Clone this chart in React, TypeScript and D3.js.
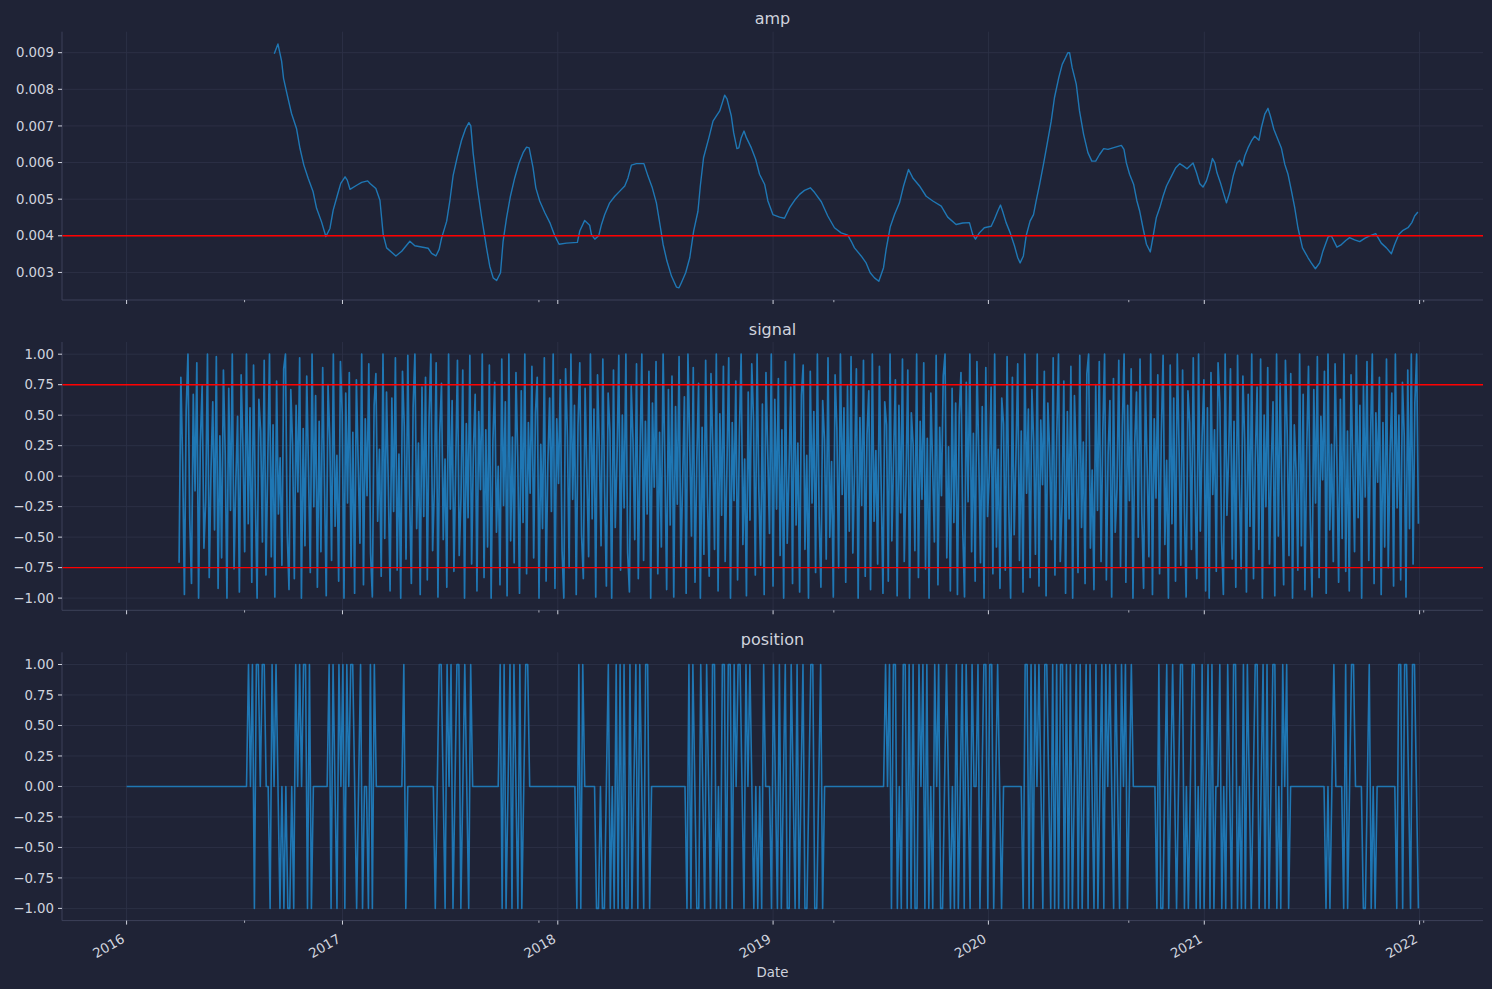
import React from "react";
import * as d3 from "d3";

// ---------------- DATA ----------------
const xStart = "2016-01-01";
const xEnd = "2021-12-30";
const yearTicks = [2016, 2017, 2018, 2019, 2020, 2021, 2022];
const minorTickDates = ["2016-07-19", "2017-11-30", "2019-04-14", "2020-08-26", "2022-01-08"];

// amp: time as decimal years
const ampTime = [
  2016.684, 2016.701, 2016.718, 2016.727, 2016.744, 2016.764, 2016.787, 2016.803, 2016.821, 2016.841,
  2016.864, 2016.880, 2016.903, 2016.923, 2016.942, 2016.957, 2016.976, 2016.992, 2017.012, 2017.022,
  2017.035, 2017.066, 2017.089, 2017.117, 2017.128, 2017.155, 2017.174, 2017.189, 2017.205, 2017.248,
  2017.275, 2017.313, 2017.336, 2017.398, 2017.414, 2017.434, 2017.449, 2017.460, 2017.484, 2017.499,
  2017.514, 2017.533, 2017.553, 2017.572, 2017.587, 2017.596, 2017.607, 2017.626, 2017.646, 2017.669,
  2017.684, 2017.700, 2017.716, 2017.734, 2017.746, 2017.762, 2017.780, 2017.800, 2017.820, 2017.839,
  2017.855, 2017.867, 2017.885, 2017.898, 2017.916, 2017.940, 2017.963, 2017.986, 2018.006, 2018.040,
  2018.091, 2018.102, 2018.125, 2018.148, 2018.156, 2018.172, 2018.190, 2018.203, 2018.218, 2018.241,
  2018.265, 2018.288, 2018.311, 2018.326, 2018.342, 2018.365, 2018.400, 2018.419, 2018.439, 2018.458,
  2018.477, 2018.489, 2018.507, 2018.528, 2018.551, 2018.563, 2018.574, 2018.594, 2018.613, 2018.631,
  2018.651, 2018.662, 2018.677, 2018.702, 2018.721, 2018.736, 2018.752, 2018.764, 2018.775, 2018.786,
  2018.806, 2018.817, 2018.832, 2018.841, 2018.852, 2018.865, 2018.876, 2018.899, 2018.919, 2018.937,
  2018.961, 2018.976, 2018.999, 2019.030, 2019.053, 2019.077, 2019.100, 2019.123, 2019.146, 2019.173,
  2019.193, 2019.224, 2019.254, 2019.285, 2019.316, 2019.347, 2019.363, 2019.378, 2019.409, 2019.432,
  2019.451, 2019.471, 2019.491, 2019.513, 2019.525, 2019.544, 2019.564, 2019.587, 2019.606, 2019.629,
  2019.649, 2019.680, 2019.711, 2019.742, 2019.781, 2019.811, 2019.850, 2019.881, 2019.912, 2019.927,
  2019.940, 2019.958, 2019.981, 2020.013, 2020.028, 2020.043, 2020.056, 2020.066, 2020.082, 2020.101,
  2020.121, 2020.136, 2020.147, 2020.162, 2020.175, 2020.193, 2020.209, 2020.221, 2020.237, 2020.255,
  2020.272, 2020.291, 2020.306, 2020.326, 2020.342, 2020.357, 2020.368, 2020.376, 2020.388, 2020.407,
  2020.422, 2020.441, 2020.461, 2020.479, 2020.497, 2020.515, 2020.534, 2020.554, 2020.577, 2020.616,
  2020.628, 2020.639, 2020.654, 2020.673, 2020.688, 2020.701, 2020.716, 2020.732, 2020.750, 2020.762,
  2020.778, 2020.794, 2020.809, 2020.825, 2020.848, 2020.868, 2020.886, 2020.902, 2020.920, 2020.948,
  2020.964, 2020.979, 2020.994, 2021.010, 2021.026, 2021.038, 2021.049, 2021.059, 2021.075, 2021.091,
  2021.103, 2021.118, 2021.134, 2021.152, 2021.165, 2021.177, 2021.188, 2021.203, 2021.219, 2021.234,
  2021.254, 2021.265, 2021.281, 2021.296, 2021.307, 2021.323, 2021.342, 2021.358, 2021.374, 2021.389,
  2021.405, 2021.420, 2021.435, 2021.456, 2021.482, 2021.497, 2021.516, 2021.536, 2021.551, 2021.575,
  2021.590, 2021.616, 2021.637, 2021.657, 2021.675, 2021.698, 2021.722, 2021.745, 2021.768, 2021.796,
  2021.822, 2021.846, 2021.869, 2021.884, 2021.904, 2021.923, 2021.946, 2021.964, 2021.977, 2021.992,
];
const ampValue = [
  0.00897, 0.00924, 0.00877, 0.0083, 0.00785, 0.00734, 0.00693, 0.00639, 0.00593, 0.00557,
  0.0052, 0.00475, 0.00438, 0.00398, 0.0042, 0.0047, 0.0051, 0.00543, 0.00561, 0.00552,
  0.00527, 0.00538, 0.00546, 0.0055, 0.00543, 0.00529, 0.00497, 0.00404, 0.00367, 0.00345,
  0.00358, 0.00385, 0.00373, 0.00366, 0.00352, 0.00345, 0.00363, 0.00393, 0.0044, 0.00497,
  0.00565, 0.00615, 0.00661, 0.00693, 0.00709, 0.007, 0.00625, 0.00534, 0.00452, 0.00367,
  0.00317, 0.00285, 0.00278, 0.00299, 0.00385, 0.00449, 0.00508, 0.00558, 0.00599, 0.00627,
  0.00642, 0.0064, 0.00586, 0.00531, 0.00495, 0.00463, 0.00436, 0.004, 0.00377, 0.0038,
  0.00382, 0.00413, 0.00442, 0.00429, 0.00404, 0.00391, 0.004, 0.00431, 0.00458, 0.0049,
  0.00508, 0.00522, 0.00536, 0.00558, 0.00593, 0.00597, 0.00597, 0.00563, 0.00531, 0.0049,
  0.00422, 0.00377, 0.00331, 0.0029, 0.0026, 0.00258, 0.00272, 0.00299, 0.0034, 0.00413,
  0.00467, 0.00536, 0.00613, 0.00668, 0.00713, 0.00727, 0.00741, 0.00763, 0.00784, 0.00774,
  0.00727, 0.00681, 0.00638, 0.0064, 0.00668, 0.00686, 0.00668, 0.0064, 0.00609, 0.00568,
  0.0054, 0.00495, 0.00458, 0.00451, 0.00448, 0.00477, 0.00497, 0.00513, 0.00524, 0.00531,
  0.00518, 0.00493, 0.00454, 0.00422, 0.00408, 0.00402, 0.00385, 0.00367, 0.00345, 0.00326,
  0.00299, 0.00285, 0.00276, 0.00313, 0.00363, 0.00424, 0.00458, 0.0049, 0.00536, 0.00581,
  0.00558, 0.00536, 0.00508, 0.00495, 0.00481, 0.00451, 0.00431, 0.00435, 0.00436, 0.00404,
  0.00391, 0.00408, 0.00422, 0.00426, 0.00445, 0.00467, 0.00484, 0.00467, 0.00436, 0.00408,
  0.00372, 0.0034, 0.00326, 0.00345, 0.004, 0.0044, 0.00458, 0.00495, 0.0054, 0.00595,
  0.0065, 0.00713, 0.00777, 0.00832, 0.00868, 0.00886, 0.009, 0.009, 0.00859, 0.00814,
  0.00741, 0.00677, 0.00627, 0.00604, 0.00604, 0.00622, 0.00638, 0.00636, 0.0064, 0.00647,
  0.00636, 0.00599, 0.00568, 0.0054, 0.00495, 0.00467, 0.00422, 0.00377, 0.00356, 0.00395,
  0.0045, 0.00477, 0.00508, 0.00536, 0.00563, 0.00586, 0.00597, 0.00591, 0.00583, 0.00599,
  0.00572, 0.00542, 0.00533, 0.0055, 0.00581, 0.00611, 0.00599, 0.00572, 0.00545, 0.00513,
  0.0049, 0.00518, 0.00563, 0.00599, 0.00606, 0.00591, 0.00618, 0.0064, 0.00659, 0.00672,
  0.00661, 0.00695, 0.00732, 0.00748, 0.00727, 0.00691, 0.00663, 0.0064, 0.00595, 0.00568,
  0.00522, 0.00477, 0.00422, 0.00367, 0.0034, 0.00326, 0.0031, 0.00326, 0.00358, 0.00397,
  0.004, 0.00369, 0.00376, 0.00387, 0.00395, 0.00389, 0.00384, 0.00393, 0.004, 0.00406,
  0.0038, 0.00367, 0.00351, 0.00376, 0.00404, 0.00415, 0.00422, 0.00436, 0.00454, 0.00465,
];
const ampThreshold = [0.004];
const ampTicks = [0.003, 0.004, 0.005, 0.006, 0.007, 0.008, 0.009];

const signalStart = "2016-03-30";
const signalEnd = "2021-12-30";
const signalValue = [
  -0.71, 0.81, 0.12, -0.97, 0.54, 1.0, -0.35, -0.88, 0.67, -0.12, 0.93, -1.0, 0.28, 0.74, -0.59, -0.21, 1.0, -0.83, 0.05, 0.61,
  -0.44, 0.98, -0.92, 0.33, -0.67, 0.87, 0.19, -1.0, 0.72, -0.28, 1.0, -0.76, -0.05, 0.49, -0.95, 0.83, 0.24, -0.62, 1.0, -0.39,
  0.56, -0.87, 0.91, -0.18, -1.0, 0.63, 0.37, -0.54, 0.95, -0.81, 0.09, 1.0, -0.66, 0.42, -0.99, 0.78, -0.31, 0.15, -0.73, 0.88,
  1.0, -0.47, -0.93, 0.71, 0.26, -0.84, 0.58, -0.13, 0.97, -1.0, 0.39, -0.57, 0.82, 0.03, -0.79, 1.0, -0.25, 0.66, -0.91, 0.45,
  -0.62, 0.89, -0.08, -0.98, 0.75, 0.31, -0.69, 1.0, -0.41, 0.17, -0.86, 0.94, 0.52, -1.0, 0.68, -0.22, 0.85, -0.74, 0.36, -0.96,
  0.79, 0.11, -0.55, 1.0, -0.89, 0.47, -0.16, 0.92, -0.63, -0.99, 0.58, 0.84, -0.37, 0.22, -0.82, 1.0, -0.51, 0.69, -0.07, -0.94,
  0.64, -0.29, 0.97, -0.77, 0.18, -1.0, 0.86, 0.41, -0.68, 0.99, -0.15, -0.88, 0.57, 1.0, -0.43, 0.27, -0.97, 0.73, -0.33, 0.81,
  -0.85, 0.48, 1.0, -0.61, -0.09, 0.93, -0.99, 0.35, 0.76, -0.52, 0.14, -0.91, 1.0, -0.27, 0.62, -0.78, 0.06, 0.95, -0.65, -0.18,
  0.87, -1.0, 0.43, -0.34, 0.99, -0.72, 0.21, 0.67, -0.94, 0.53, -0.11, 1.0, -0.83, 0.38, -0.58, 0.91, -1.0, 0.29, 0.77, -0.46,
  0.08, -0.89, 0.96, -0.24, 0.61, -0.98, 1.0, -0.53, 0.32, -0.71, 0.85, 0.16, -0.96, 0.7, -0.38, 1.0, -0.8, 0.44, -0.14, 0.9,
  -0.67, 0.52, 0.81, -1.0, 0.26, -0.43, 0.97, -0.86, 0.11, 0.64, -0.29, 1.0, -0.92, 0.47, -0.06, 0.79, -0.61, -1.0, 0.88, 0.34,
  -0.75, 1.0, -0.19, 0.58, -0.97, 0.41, 0.93, -0.48, -0.84, 0.72, 0.02, -0.66, 1.0, -0.35, 0.55, -0.99, 0.83, 0.23, -0.57, 0.96,
  -0.13, -0.9, 0.68, 0.37, -1.0, 0.87, -0.42, 0.15, 0.99, -0.77, 0.5, -0.26, 1.0, -0.63, -0.95, 0.74, 0.3, -0.52, 0.92, -0.84,
  0.19, 1.0, -0.69, 0.45, -0.31, 0.86, -1.0, 0.6, -0.09, 0.94, -0.8, 0.36, -0.58, 1.0, 0.1, -0.93, 0.71, -0.4, 0.82, -0.99,
  0.57, -0.23, 0.98, -0.74, -0.05, 0.65, -0.96, 1.0, 0.28, -0.49, 0.89, -0.87, 0.13, 0.76, -1.0, 0.4, -0.64, 0.95, -0.17, -0.82,
  0.84, 0.25, -0.6, 1.0, -0.94, 0.51, -0.32, 0.9, -0.7, 0.07, 0.97, -1.0, 0.44, -0.2, 0.78, -0.85, 0.33, 1.0, -0.56, 0.14,
  -0.98, 0.69, -0.36, 0.92, 0.46, -0.81, 1.0, -0.12, -0.73, 0.59, -0.97, 0.85, 0.2, -0.47, 1.0, -0.9, 0.63, -0.27, 0.8, -0.65,
  0.38, -1.0, 0.94, -0.55, 0.04, 0.73, -0.88, 1.0, -0.4, 0.27, -0.95, 0.66, 0.91, -0.6, 0.17, -1.0, 0.86, -0.22, 0.53, -0.79,
  1.0, -0.34, -0.91, 0.62, 0.3, -0.68, 0.97, -0.5, 0.12, -0.99, 0.83, 0.39, -0.75, 1.0, -0.15, 0.56, -0.87, 0.74, -0.45, 0.98,
  -0.63, 0.07, 0.88, -1.0, 0.48, -0.24, 0.95, -0.82, 0.34, 0.7, -0.93, 1.0, -0.37, 0.21, -0.72, 0.9, -0.1, -0.96, 0.61, 0.42,
  -0.86, 1.0, -0.53, 0.16, 0.79, -0.98, 0.58, -0.3, 0.96, -0.7, -0.04, 0.87, -1.0, 0.52, 0.26, -0.61, 1.0, -0.83, 0.45, -0.19,
  0.93, -0.76, 0.31, -1.0, 0.68, 0.09, -0.54, 0.99, -0.89, 0.4, -0.16, 0.82, 1.0, -0.67, 0.24, -0.94, 0.72, -0.38, 0.6, -0.97,
  0.5, 0.85, -0.44, -0.99, 0.77, -0.21, 1.0, -0.62, 0.35, -0.86, 0.94, 0.18, -0.71, 0.57, -1.0, 0.89, -0.33, 0.03, 0.73, -0.8,
  1.0, -0.58, 0.22, -0.92, 0.64, 0.43, -0.77, 0.98, -0.26, -1.0, 0.81, -0.48, 0.15, 0.92, -0.69, 0.37, -0.95, 1.0, -0.14, 0.55,
  -0.83, 0.71, 0.29, -0.64, 1.0, -0.9, 0.46, -0.07, 0.86, -0.98, 0.6, 0.2, -0.52, 0.97, -0.81, 0.32, 1.0, -0.7, -0.23, 0.78,
  -0.96, 0.53, -0.35, 0.9, -1.0, 0.66, 0.13, -0.79, 0.99, -0.42, 0.28, -0.88, 0.84, 1.0, -0.59, 0.05, -0.93, 0.75, -0.28, 0.94,
  -0.7, 0.36, 1.0, -0.85, 0.19, 0.62, -0.99, 0.8, -0.46, -0.1, 0.95, -0.74, 0.41, 1.0, -0.87, 0.58, -0.2, 0.88, -1.0, 0.27,
  0.69, -0.5, 0.96, -0.31, -0.92, 0.74, 0.08, -0.66, 1.0, -0.97, 0.47, -0.18, 0.83, -0.8, 0.35, 0.99, -0.56, 0.13, -1.0, 0.91,
  -0.39, 0.64, -0.86, 1.0, 0.23, -0.73, 0.87, -0.27, -0.99, 0.7, 0.44, -0.6, 0.97, -0.11, -0.84, 1.0, -0.45, 0.32, 0.79, -0.94,
  0.56, -1.0, 0.85, -0.15, 0.38, -0.78, 0.93, 0.6, -0.53, -0.97, 1.0, -0.32, 0.19, 0.88, -0.68, 0.45, -0.91, 0.99, -0.07, -0.76,
  0.82, 0.3, -0.95, 0.67, -0.41, 1.0, -0.84, 0.14, 0.73, -0.6, 0.96, -1.0, 0.5, -0.25, 0.89, -0.72, 0.08, 0.61, -0.98, 1.0,
  -0.49, 0.76, -0.13, -0.89, 0.95, 0.35, -0.65, 0.84, -1.0, 0.42, 0.04, -0.77, 1.0, -0.57, 0.67, -0.93, 0.21, 0.9, -0.36, -0.99,
  0.71, -0.22, 0.98, -0.83, 0.49, -0.03, 0.86, -0.96, 1.0, -0.44, 0.26, -0.7, 0.92, 0.15, -0.87, 0.63, -0.51, 1.0, -0.78, 0.37,
  -0.94, 0.83, 0.1, -0.62, 0.99, -0.34, 0.58, -1.0, 0.75, -0.17, 0.94, -0.69, 0.31, 1.0, -0.88, 0.52, -0.05, 0.81, -0.97, 0.44,
  -0.58, 0.96, -0.75, 0.18, 0.68, -0.9, 1.0, -0.26, 0.5, -0.85, 0.77, 0.33, -0.99, 0.87, -0.43, 1.0, -0.72, 0.6, 1.0, -0.39,
];
const signalThresholds = [0.75, -0.75];

const positionStart = "2016-01-01";
const positionEnd = "2021-12-30";
const positionValue = [
  0,0,0,0,0,0,0,0,0,0,0,0,0,0,0,0,0,0,0,0,
  0,0,0,0,0,0,0,0,0,0,0,0,0,0,0,0,0,0,0,0,
  0,0,0,0,0,0,0,0,0,0,0,0,0,0,0,0,0,0,0,0,
  0,0,1,0,1,-1,1,1,0,1,1,0,0,-1,1,0,1,0,-1,0,
  -1,0,-1,-1,0,-1,1,0,1,0,1,1,-1,1,-1,0,0,0,0,0,
  0,0,0,1,-1,1,0,-1,1,0,1,-1,1,0,1,1,0,-1,0,1,
  -1,0,0,-1,1,-1,1,0,0,0,0,0,0,0,0,0,0,0,0,0,
  0,1,-1,0,0,0,0,0,0,0,0,0,0,0,0,0,0,-1,0,1,
  1,0,-1,1,0,1,-1,0,1,1,-1,0,1,0,-1,1,0,0,0,0,
  0,0,0,0,0,0,0,0,0,0,1,-1,1,-1,0,1,-1,1,0,-1,
  1,-1,0,1,1,0,0,0,0,0,0,0,0,0,0,0,0,0,0,0,
  0,0,0,0,0,0,0,0,0,-1,1,-1,1,0,0,0,0,0,0,-1,
  -1,0,-1,-1,0,1,-1,0,-1,1,-1,1,-1,1,-1,-1,1,-1,0,1,
  -1,1,0,-1,1,1,-1,0,0,0,0,0,0,0,0,0,0,0,0,0,
  0,0,0,0,0,-1,1,-1,1,0,-1,-1,1,0,-1,1,0,-1,1,1,
  -1,0,-1,1,1,-1,1,1,-1,1,0,1,1,0,-1,1,0,1,0,-1,
  0,-1,0,-1,1,0,0,0,-1,1,0,-1,1,-1,0,1,-1,-1,1,0,
  -1,1,-1,0,1,-1,-1,0,1,1,-1,-1,0,1,-1,0,0,0,0,0,
  0,0,0,0,0,0,0,0,0,0,0,0,0,0,0,0,0,0,0,0,
  0,0,0,0,0,0,1,0,1,-1,1,1,-1,0,-1,1,1,-1,1,-1,
  1,-1,-1,1,0,1,-1,1,-1,0,-1,1,0,1,-1,-1,0,1,0,-1,
  0,-1,1,-1,0,1,-1,1,0,-1,1,0,0,1,-1,0,1,1,-1,1,
  1,-1,0,1,0,-1,0,0,0,0,0,0,0,0,0,0,-1,1,1,-1,
  1,-1,1,0,1,0,-1,1,1,0,-1,1,-1,1,-1,1,1,-1,1,-1,
  1,-1,0,1,-1,1,-1,0,1,-1,1,0,-1,1,-1,0,1,-1,1,0,
  1,0,-1,1,0,-1,1,0,1,-1,0,1,0,0,0,0,0,0,0,0,
  0,0,0,0,-1,1,-1,-1,0,1,-1,0,1,0,-1,0,1,1,-1,0,
  -1,0,1,1,-1,0,-1,1,-1,0,1,-1,1,-1,0,0,1,-1,0,-1,
  1,0,-1,1,1,-1,0,-1,1,-1,1,0,-1,0,1,1,-1,0,1,-1,
  1,-1,0,1,1,-1,0,-1,1,0,1,-1,0,0,0,0,0,0,0,0,
  0,0,0,0,0,0,0,0,0,0,-1,0,-1,0,1,0,0,0,0,-1,
  1,-1,0,1,1,0,0,0,0,-1,-1,0,1,-1,0,-1,0,0,0,0,
  0,0,0,0,0,0,-1,1,1,-1,1,1,0,-1,1,1,0,-1,
];
const unitTicks = [-1, -0.75, -0.5, -0.25, 0, 0.25, 0.5, 0.75, 1];

// ---------------- STYLE ----------------
const W = 1492;
const H = 989;
const BG = "#1f2336";
const GRID = "#2c3146";
const SPINE = "#3c4159";
const TEXT = "#d0d3de";
const LINE = "#1f77b4";
const RED = "#ff0000";
const FONT = "DejaVu Sans, Verdana, sans-serif";
const PL = 62;
const PR = 1483;
const PH = 268.3;
const TOPS = [31.7, 342, 652.3];

const utc = (s: string) => {
  const [y, m, d] = s.split("-").map(Number);
  return new Date(Date.UTC(y, m - 1, d));
};
const decYear = (t: number) => {
  const y = Math.floor(t);
  const a = Date.UTC(y, 0, 1);
  const b = Date.UTC(y + 1, 0, 1);
  return new Date(a + (t - y) * (b - a));
};
const spread = (s: string, e: string, n: number, i: number) => {
  const a = utc(s).getTime();
  const b = utc(e).getTime();
  return new Date(a + ((b - a) * i) / (n - 1));
};
const padded = (lo: number, hi: number): [number, number] => {
  const p = (hi - lo) * 0.05;
  return [lo - p, hi + p];
};

type Pt = [Date, number];

const ampPts: Pt[] = ampTime.map((t, i) => [decYear(t), ampValue[i]]);
const sigPts: Pt[] = signalValue.map((v, i) => [spread(signalStart, signalEnd, signalValue.length, i), v]);
const posPts: Pt[] = positionValue.map((v, i) => [spread(positionStart, positionEnd, positionValue.length, i), v]);

const x0 = utc(xStart).getTime();
const x1 = utc(xEnd).getTime();
const xPad = (x1 - x0) * 0.05;
const x = d3.scaleUtc().domain([new Date(x0 - xPad), new Date(x1 + xPad)]).range([PL, PR]);

interface PanelProps {
  top: number;
  title: string;
  pts: Pt[];
  domain: [number, number];
  ticks: number[];
  fmt: (v: number) => string;
  hlines: number[];
  width: number;
  showX: boolean;
}

function Panel({ top, title, pts, domain, ticks, fmt, hlines, width, showX }: PanelProps) {
  const bottom = top + PH;
  const y = d3.scaleLinear().domain(domain).range([bottom, top]);
  const line = d3
    .line<Pt>()
    .x((d) => x(d[0]))
    .y((d) => y(d[1]));
  const majors = yearTicks.map((yr) => new Date(Date.UTC(yr, 0, 1)));
  const minors = minorTickDates.map(utc);
  return (
    <g>
      {ticks.map((t) => (
        <line key={"gy" + t} x1={PL} x2={PR} y1={y(t)} y2={y(t)} stroke={GRID} strokeWidth={0.9} />
      ))}
      {majors.map((d) => (
        <line key={"gx" + d.getTime()} x1={x(d)} x2={x(d)} y1={top} y2={bottom} stroke={GRID} strokeWidth={0.9} />
      ))}
      <path d={line(pts) || ""} fill="none" stroke={LINE} strokeWidth={width} strokeLinejoin="round" />
      {hlines.map((h) => (
        <line key={"h" + h} x1={PL} x2={PR} y1={y(h)} y2={y(h)} stroke={RED} strokeWidth={1.4} />
      ))}
      <line x1={PL} x2={PL} y1={top} y2={bottom} stroke={SPINE} strokeWidth={1} />
      <line x1={PL} x2={PR} y1={bottom} y2={bottom} stroke={SPINE} strokeWidth={1} />
      {ticks.map((t) => (
        <g key={"ty" + t}>
          <line x1={PL - 4} x2={PL} y1={y(t)} y2={y(t)} stroke={TEXT} strokeWidth={1} />
          <text x={PL - 8} y={y(t)} dy="0.35em" textAnchor="end" fill={TEXT} fontSize={13.3} fontFamily={FONT}>
            {fmt(t)}
          </text>
        </g>
      ))}
      {majors.map((d) => (
        <line key={"tx" + d.getTime()} x1={x(d)} x2={x(d)} y1={bottom} y2={bottom + 4} stroke={TEXT} strokeWidth={1} />
      ))}
      {minors.map((d) => (
        <line key={"mx" + d.getTime()} x1={x(d)} x2={x(d)} y1={bottom} y2={bottom + 2.2} stroke={TEXT} strokeWidth={0.8} />
      ))}
      {showX &&
        majors.map((d, i) => (
          <text
            key={"lx" + i}
            transform={`translate(${x(d) - 1},${bottom + 21}) rotate(-30)`}
            textAnchor="end"
            fill={TEXT}
            fontSize={13.3}
            fontFamily={FONT}
          >
            {String(yearTicks[i])}
          </text>
        ))}
      <text x={(PL + PR) / 2} y={top - 7.4} textAnchor="middle" fill={TEXT} fontSize={16} fontFamily={FONT}>
        {title}
      </text>
    </g>
  );
}

export default function App() {
  const ampExt = d3.extent(ampValue) as [number, number];
  const f3 = d3.format(".3f");
  const f2 = d3.format(".2f");
  return (
    <svg
      width={W}
      height={H}
      viewBox={`0 0 ${W} ${H}`}
      style={{ position: "absolute", left: 0, top: 0, display: "block" }}
    >
      <rect x={0} y={0} width={W} height={H} fill={BG} />
      <Panel
        top={TOPS[0]}
        title="amp"
        pts={ampPts}
        domain={padded(ampExt[0], ampExt[1])}
        ticks={ampTicks}
        fmt={f3}
        hlines={ampThreshold}
        width={1.4}
        showX={false}
      />
      <Panel
        top={TOPS[1]}
        title="signal"
        pts={sigPts}
        domain={padded(-1, 1)}
        ticks={unitTicks}
        fmt={f2}
        hlines={signalThresholds}
        width={1.7}
        showX={false}
      />
      <Panel
        top={TOPS[2]}
        title="position"
        pts={posPts}
        domain={padded(-1, 1)}
        ticks={unitTicks}
        fmt={f2}
        hlines={[]}
        width={1.6}
        showX={true}
      />
      <text x={(PL + PR) / 2} y={977} textAnchor="middle" fill={TEXT} fontSize={13.3} fontFamily={FONT}>
        Date
      </text>
    </svg>
  );
}
